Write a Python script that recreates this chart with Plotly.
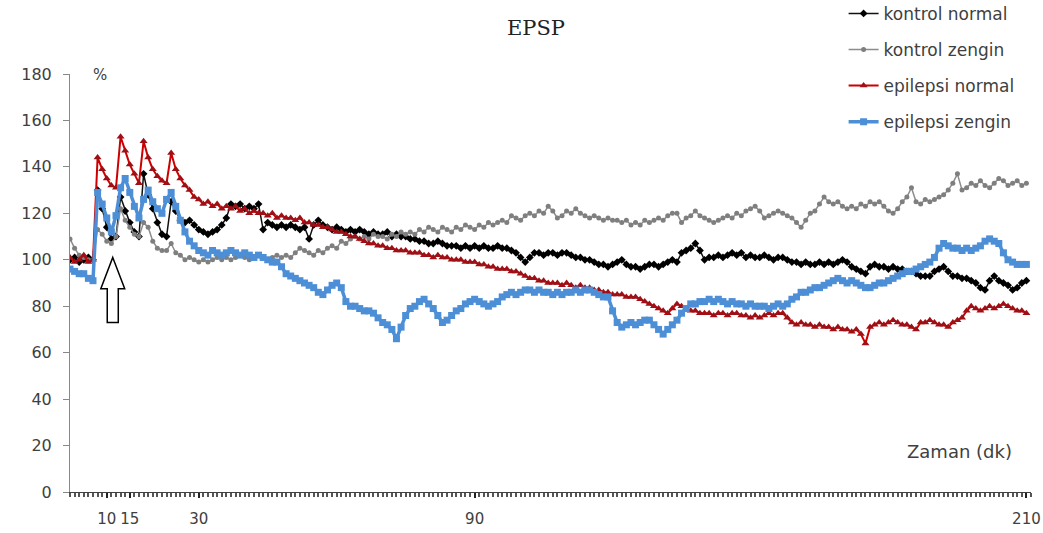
import plotly.graph_objects as go

# Time axis (minutes): one sample per minute, 2..210
START_MIN = 2

# kontrol normal (black)
kontrol_normal = [
    100, 101, 99, 100, 101, 100, 130, 122,                 # 2-9
    114, 109, 110, 127, 121, 116, 112, 110, 137, 128,      # 10-19
    122, 116, 111, 110, 125, 121, 117, 116, 117, 115,      # 20-29
    113, 112, 111, 112, 113, 115, 118, 124, 123, 124,      # 30-39
    122, 123, 122, 124, 113, 116, 115, 114, 115, 114,      # 40-49
    115, 114, 113, 114, 109, 115, 117, 115, 114, 113,      # 50-59
    114, 113, 112, 113, 112, 113, 112, 111, 112, 111,      # 60-69
    111, 112, 110, 111, 110, 110, 109, 109, 108, 108,      # 70-79
    107, 107, 108, 107, 106, 106, 106, 105, 106, 105,      # 80-89
    106, 105, 106, 105, 105, 106, 105, 105, 104, 103,      # 90-99
    101, 99, 101, 103, 103, 102, 103, 103, 102, 103,       # 100-109
    103, 102, 101, 101, 100, 100, 99, 98, 98, 97,          # 110-119
    98, 99, 100, 98, 97, 97, 96, 97, 98, 98,               # 120-129
    97, 98, 99, 100, 99, 103, 104, 105, 107, 104,          # 130-139
    100, 101, 101, 102, 101, 102, 103, 102, 103, 101,      # 140-149
    102, 101, 101, 102, 101, 100, 101, 101, 100, 99,       # 150-159
    99, 98, 99, 98, 98, 99, 98, 99, 98, 99,                # 160-169
    100, 99, 97, 96, 95, 94, 97, 98, 97, 97,               # 170-179
    96, 97, 96, 96, 95, 95, 94, 93, 93, 93,                # 180-189
    95, 96, 97, 95, 93, 93, 92, 92, 91, 90,                # 190-199
    88, 87, 91, 93, 91, 90, 89, 87, 88, 90, 91,            # 200-210
]

# kontrol zengin (gray)
kontrol_zengin = [
    109, 105, 102, 101, 100, 100, 113, 111,
    108, 107, 110, 122, 117, 114, 111, 110, 116, 114,
    108, 105, 104, 104, 107, 103, 102, 100, 101, 100,
    99, 100, 99, 100, 101, 100, 101, 100, 101, 102,
    101, 100, 101, 102, 101, 100, 101, 102, 101, 102,
    101, 103, 105, 104, 103, 102, 104, 103, 105, 106,
    105, 108, 107, 109, 110, 109, 110, 109, 111, 110,
    110, 109, 111, 110, 112, 111, 112, 111, 113, 112,
    114, 113, 112, 114, 113, 112, 114, 113, 115, 114,
    113, 115, 114, 116, 115, 116, 117, 116, 119, 118,
    117, 119, 120, 119, 121, 120, 123, 121, 118, 119,
    121, 120, 122, 120, 119, 118, 119, 118, 117, 118,
    117, 117, 116, 117, 115, 116, 115, 117, 116, 117,
    118, 117, 119, 120, 120, 116, 118, 119, 121, 119,
    118, 117, 116, 117, 118, 119, 118, 120, 119, 121,
    122, 123, 121, 118, 119, 120, 121, 120, 119, 118,
    116, 114, 117, 120, 121, 124, 127, 125, 124, 125,
    123, 122, 123, 122, 124, 123, 125, 124, 125, 123,
    121, 120, 122, 125, 127, 131, 125, 124, 126, 125,
    126, 127, 128, 130, 133, 137, 130, 131, 133, 132,
    134, 132, 131, 133, 135, 134, 132, 133, 134, 132, 133,
]

# epilepsi normal (red)
epilepsi_normal = [
    101, 99, 100, 102, 99, 100, 144, 139,
    135, 132, 131, 153, 147, 141, 137, 133, 151, 144,
    139, 136, 134, 133, 146, 139, 135, 132, 130, 127,
    126, 124, 125, 123, 124, 122, 123, 122, 123, 121,
    122, 120, 121, 120, 120, 119, 120, 118, 119, 118,
    118, 117, 118, 116, 116, 115, 115, 114, 114, 113,
    112, 112, 111, 110, 110, 109, 108, 107, 107, 106,
    106, 105, 105, 104, 104, 104, 103, 103, 103, 102,
    102, 101, 102, 101, 101, 100, 100, 100, 99, 99,
    99, 98, 98, 97, 97, 96, 96, 96, 95, 95,
    94, 93, 92, 92, 91, 91, 90, 90, 90, 89,
    90, 89, 88, 89, 88, 88, 87, 87, 86, 86,
    85, 85, 85, 84, 84, 84, 83, 82, 81, 80,
    79, 78, 77, 79, 81, 80, 79, 78, 78, 77,
    77, 77, 76, 77, 77, 76, 77, 77, 76, 76,
    75, 76, 75, 76, 77, 76, 77, 77, 75, 73,
    72, 73, 72, 72, 71, 72, 71, 71, 70, 71,
    70, 70, 69, 70, 68, 64, 71, 72, 73, 72,
    73, 74, 73, 72, 72, 71, 70, 73, 73, 74,
    73, 72, 72, 71, 73, 74, 75, 78, 80, 79,
    78, 79, 80, 79, 80, 81, 80, 79, 78, 78, 77,
]

# epilepsi zengin (blue)
epilepsi_zengin = [
    96, 95, 94, 94, 92, 91, 129, 124,
    118, 112, 119, 131, 135, 129, 123, 118, 126, 130,
    125, 122, 120, 126, 129, 123, 117, 112, 108, 106,
    104, 103, 102, 104, 103, 102, 103, 104, 103, 102,
    103, 102, 101, 102, 101, 100, 99, 99, 97, 94,
    93, 92, 91, 90, 89, 88, 86, 85, 87, 89,
    90, 88, 82, 80, 80, 79, 78, 78, 77, 75,
    73, 72, 70, 66, 71, 76, 79, 80, 82, 83,
    81, 79, 76, 73, 74, 76, 78, 79, 81, 82,
    83, 82, 81, 80, 81, 82, 84, 85, 86, 85,
    86, 87, 87, 86, 87, 86, 86, 85, 86, 85,
    86, 86, 87, 86, 87, 87, 86, 85, 84, 84,
    78, 73, 71, 72, 73, 72, 73, 74, 74, 72,
    70, 68, 70, 72, 74, 77, 79, 81, 81, 82,
    82, 83, 82, 83, 82, 81, 82, 81, 81, 80,
    81, 80, 80, 80, 79, 80, 81, 80, 81, 83,
    84, 86, 86, 87, 88, 88, 89, 90, 91, 92,
    91, 90, 91, 90, 89, 88, 88, 89, 90, 90,
    91, 92, 93, 94, 95, 95, 96, 97, 98, 99,
    101, 105, 107, 106, 105, 105, 104, 105, 104, 105,
    106, 108, 109, 108, 107, 103, 100, 99, 98, 98, 98,
]

series_names = ["kontrol normal", "kontrol zengin", "epilepsi normal", "epilepsi zengin"]
tick_values = [10, 15, 30, 90, 210]
tick_labels = ["10", "15", "30", "90", "210"]

# arrow marking stimulation (minutes / %)
ARROW_X = 11.3
ARROW_TIP, ARROW_HEAD_BASE, ARROW_BOTTOM = 101, 87.5, 73
ARROW_HEAD_HW, ARROW_SHAFT_HW = 2.6, 1.2

styles = [
    dict(line=dict(color="#111111", width=1.5), marker=dict(symbol="diamond", size=6, color="#000000")),
    dict(line=dict(color="#8c8c8c", width=1.5), marker=dict(symbol="circle", size=5, color="#7f7f7f")),
    dict(line=dict(color="#cc0000", width=2), marker=dict(symbol="triangle-up", size=7, color="#9e1016")),
    dict(line=dict(color="#4d8fd6", width=3.5), marker=dict(symbol="square", size=7, color="#4d8fd6")),
]

data = [kontrol_normal, kontrol_zengin, epilepsi_normal, epilepsi_zengin]

fig = go.Figure()
for i, (name, vals, st) in enumerate(zip(series_names, data, styles)):
    xs = list(range(START_MIN, START_MIN + len(vals)))
    fig.add_trace(go.Scatter(
        x=xs, y=vals, name=name, mode="lines+markers",
        line=st["line"], marker=st["marker"], legendgroup=f"g{i}",
    ))

a = ARROW_X
path = (f"M {a},{ARROW_TIP} L {a+ARROW_HEAD_HW},{ARROW_HEAD_BASE} L {a+ARROW_SHAFT_HW},{ARROW_HEAD_BASE} "
        f"L {a+ARROW_SHAFT_HW},{ARROW_BOTTOM} L {a-ARROW_SHAFT_HW},{ARROW_BOTTOM} "
        f"L {a-ARROW_SHAFT_HW},{ARROW_HEAD_BASE} L {a-ARROW_HEAD_HW},{ARROW_HEAD_BASE} Z")
fig.add_shape(type="path", path=path, xref="x", yref="y",
              line=dict(color="#000000", width=1.5), fillcolor="white")

text_color = "#404040"
font_family = "'DejaVu Sans', sans-serif"

fig.update_layout(
    width=1043, height=533,
    margin=dict(l=70, r=12, t=74, b=41, autoexpand=False),
    paper_bgcolor="white", plot_bgcolor="white",
    font=dict(family=font_family, size=15, color=text_color),
    title=dict(text="EPSP", x=536 / 1043, xanchor="center", y=1 - 28 / 533, yanchor="middle",
               font=dict(family="'DejaVu Serif', serif", size=21, color="#222222")),
    showlegend=True,
    legend=dict(x=0.805, y=1.187, xanchor="left", yanchor="top",
                font=dict(size=17, color=text_color), bgcolor="rgba(0,0,0,0)",
                tracegroupgap=11, itemwidth=30),
    xaxis=dict(range=[2, 211], tickmode="array", tickvals=tick_values, ticktext=tick_labels,
               showgrid=False, zeroline=False, showline=True, linecolor="#404040", linewidth=1,
               ticks="outside", ticklen=5, tickcolor="#222222", tickwidth=1.5,
               ticklabelstandoff=8, ticklabeloverflow="allow",
               tickfont=dict(size=15, color=text_color),
               minor=dict(dtick=1, tick0=0, ticks="outside", ticklen=4, tickcolor="#555555")),
    yaxis=dict(range=[0, 180], dtick=20, showgrid=False, zeroline=False, showline=True,
               linecolor="#888888", linewidth=1, ticks="outside", ticklen=6, tickcolor="#888888",
               ticklabelstandoff=8,
               tickfont=dict(size=16, color=text_color)),
    annotations=[
        dict(text="%", xref="paper", yref="paper", x=0.031, y=0.9976, xanchor="center",
             yanchor="middle", showarrow=False, font=dict(size=15, color=text_color)),
        dict(text="Zaman (dk)", xref="paper", yref="paper", x=0.926, y=0.096, xanchor="center",
             yanchor="middle", showarrow=False, font=dict(size=18, color=text_color)),
    ],
)

fig.write_html("out.html")
